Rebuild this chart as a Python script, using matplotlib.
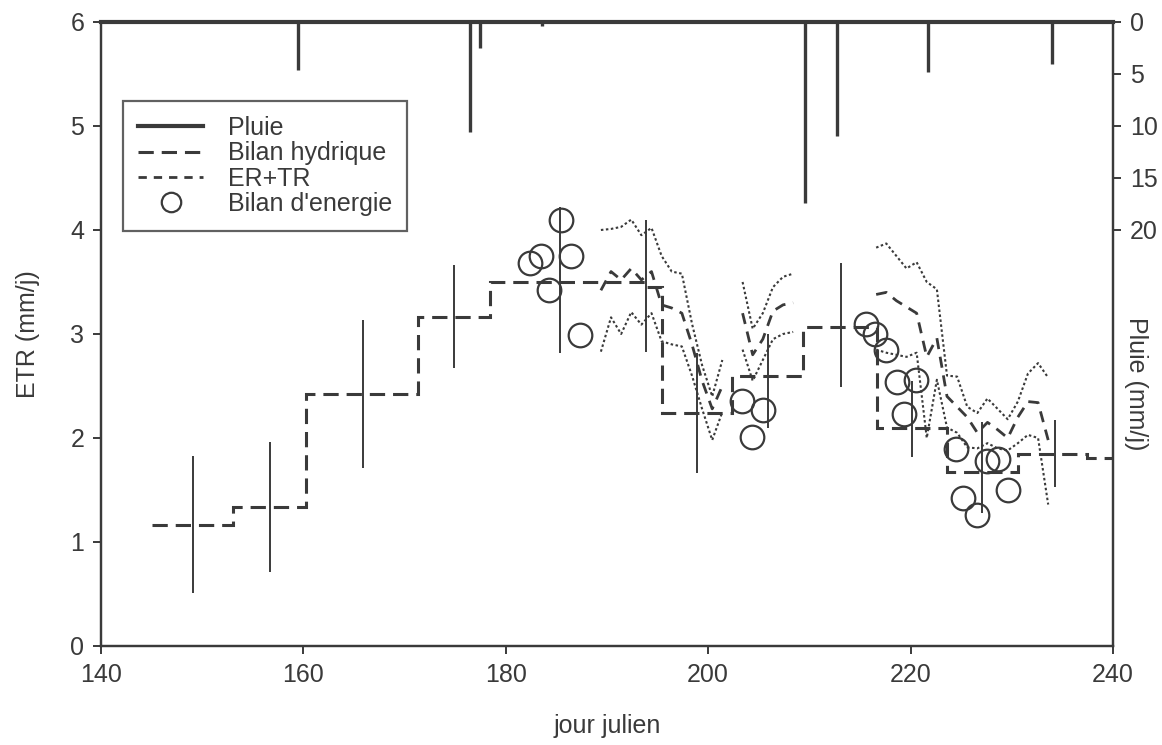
import matplotlib
matplotlib.use("Agg")
import matplotlib.pyplot as plt
from matplotlib.lines import Line2D

plt.rcParams['font.family'] = ['Liberation Sans', 'DejaVu Sans']

# --- Bilan hydrique (paliers) ---
bornes_bh = [145, 153, 160.3, 171.3, 178.4, 193.8, 195.4, 202.4, 209.4, 216.7, 223.6, 230.6, 237.4, 240]
bilan_hydrique = [1.16, 1.34, 2.42, 3.16, 3.5, 3.45, 2.24, 2.6, 3.07, 2.1, 1.67, 1.85, 1.81]

# barres verticales (incertitude)
err_jours = [149.1, 156.7, 165.9, 174.9, 185.4, 193.9, 198.9, 205.9, 213.1, 220.1, 227.1, 234.3]
err_haut = [1.83, 1.96, 3.13, 3.66, 4.22, 4.1, 2.82, 3.0, 3.68, 2.55, 2.15, 2.17]
err_bas = [0.51, 0.71, 1.71, 2.67, 2.82, 2.83, 1.66, 2.1, 2.49, 1.82, 1.28, 1.53]

# --- ER+TR journalier (3 periodes) ---
jours_a = [189.4, 190.4, 191.4, 192.4, 193.4, 194.4, 195.4, 196.4, 197.4, 198.4, 199.4, 200.4, 201.4]
ertr_a = [3.42, 3.6, 3.52, 3.63, 3.52, 3.6, 3.28, 3.25, 3.2, 2.9, 2.55, 2.28, 2.5]
ertr_a_haut = [4.0, 4.01, 4.03, 4.1, 3.95, 4.02, 3.75, 3.6, 3.58, 3.1, 2.7, 2.4, 2.75]
ertr_a_bas = [2.83, 3.16, 3.0, 3.21, 3.09, 3.2, 2.93, 2.9, 2.88, 2.6, 2.28, 1.98, 2.25]

jours_b = [203.4, 204.4, 205.4, 206.4, 207.4, 208.4]
ertr_b = [3.2, 2.8, 2.95, 3.22, 3.28, 3.3]
ertr_b_haut = [3.5, 3.05, 3.2, 3.45, 3.55, 3.58]
ertr_b_bas = [2.85, 2.55, 2.75, 2.95, 3.0, 3.02]

jours_c = [216.6, 217.6, 218.6, 219.6, 220.6, 221.6, 222.6, 223.6, 224.6,
           225.6, 226.6, 227.6, 228.6, 229.6, 230.6, 231.6, 232.6, 233.6]
ertr_c = [3.38, 3.4, 3.32, 3.26, 3.2, 2.78, 2.96, 2.4, 2.3,
          2.2, 2.05, 2.15, 2.08, 2.0, 2.2, 2.35, 2.34, 1.98]
ertr_c_haut = [3.83, 3.87, 3.75, 3.63, 3.69, 3.5, 3.43, 2.6, 2.59,
               2.3, 2.24, 2.38, 2.28, 2.18, 2.35, 2.62, 2.72, 2.58]
ertr_c_bas = [2.85, 2.82, 2.8, 2.78, 2.82, 2.0, 2.56, 2.1, 2.05,
              1.91, 1.9, 1.95, 1.9, 1.88, 1.95, 2.03, 2.0, 1.36]

# --- Bilan d'energie ---
be_jours = [182.4, 183.5, 184.3, 185.5, 186.4, 187.3,
            203.3, 204.3, 205.4,
            215.6, 216.5, 217.6, 218.7, 219.4, 220.5, 224.5,
            225.2, 226.6, 227.6, 228.6, 229.6]
be_etr = [3.68, 3.75, 3.42, 4.1, 3.75, 2.99,
          2.36, 2.01, 2.27,
          3.1, 3.0, 2.85, 2.54, 2.23, 2.56, 1.89,
          1.42, 1.26, 1.78, 1.8, 1.5]

# --- Pluie ---
pluie_jours = [159.5, 176.5, 177.5, 183.6, 209.6, 212.7, 221.7, 234.0]
pluie_mm = [4.6, 10.6, 2.5, 0.4, 17.4, 11.0, 4.8, 4.0]

gris = '#3a3a3a'
fs = 18

fig = plt.figure(figsize=(11.62, 7.45), dpi=100)
ax = fig.add_axes([0.0869, 0.1329, 0.8709, 0.8376])
ax2 = ax.twinx()

# paliers bilan hydrique
ax.stairs(bilan_hydrique, bornes_bh, baseline=None, color=gris, lw=2.2,
          linestyle=(0, (5, 2.6)))
ax.vlines(err_jours, err_bas, err_haut, color=gris, lw=1.4)

# ER+TR
for jj, mid, hi, lo in [(jours_a, ertr_a, ertr_a_haut, ertr_a_bas),
                        (jours_b, ertr_b, ertr_b_haut, ertr_b_bas),
                        (jours_c, ertr_c, ertr_c_haut, ertr_c_bas)]:
    ax.plot(jj, mid, color=gris, lw=2.0, linestyle=(0, (4, 2.8)))
    ax.plot(jj, hi, color=gris, lw=1.5, linestyle=(0, (1.2, 1.2)))
    ax.plot(jj, lo, color=gris, lw=1.5, linestyle=(0, (1.2, 1.2)))

ax.plot(be_jours, be_etr, linestyle='none', marker='o', markersize=17,
        markerfacecolor='none', markeredgecolor=gris, markeredgewidth=1.6)

ax.set_xlim(140, 240)
ax.set_ylim(0, 6)
ax.set_xticks([140, 160, 180, 200, 220, 240])
ax.set_yticks([0, 1, 2, 3, 4, 5, 6])
ax.set_xlabel('jour julien', fontsize=fs, color=gris, labelpad=20)
ax.set_ylabel('ETR (mm/j)', fontsize=fs, color=gris, labelpad=22)

# pluie sur l'axe de droite, inverse
ax2.vlines(pluie_jours, 0, pluie_mm, color=gris, lw=2.4)
ax2.set_ylim(60, 0)
ax2.set_yticks([0, 5, 10, 15, 20])
ax2.set_ylabel('Pluie (mm/j)', fontsize=fs, color=gris, rotation=270)
ax2.yaxis.set_label_coords(1.035, 0.42)

for a in (ax, ax2):
    a.tick_params(direction='out', length=6, width=1.4, labelsize=fs,
                  colors=gris, pad=6)
    for s in a.spines.values():
        s.set_color(gris)
        s.set_linewidth(1.6)
ax2.spines['top'].set_linewidth(3)

handles = [
    Line2D([], [], color=gris, lw=3),
    Line2D([], [], color=gris, lw=2.2, linestyle=(0, (5, 2.6))),
    Line2D([], [], color=gris, lw=2.0, linestyle=(0, (3, 2.5))),
    Line2D([], [], linestyle='none', marker='o', markersize=14,
           markerfacecolor='none', markeredgecolor=gris, markeredgewidth=1.6),
]
labels = ['Pluie', 'Bilan hydrique', 'ER+TR', "Bilan d'energie"]
leg = ax2.legend(handles, labels, loc='upper left', bbox_to_anchor=(0.022, 0.873),
                 fontsize=fs, frameon=True, fancybox=False, handlelength=2.6,
                 labelspacing=0.05, borderpad=0.6, handletextpad=1.0,
                 borderaxespad=0)
leg.get_frame().set_edgecolor(gris)
leg.get_frame().set_linewidth(1.6)
for t in leg.get_texts():
    t.set_color(gris)

fig.savefig('out.png', dpi=100)
